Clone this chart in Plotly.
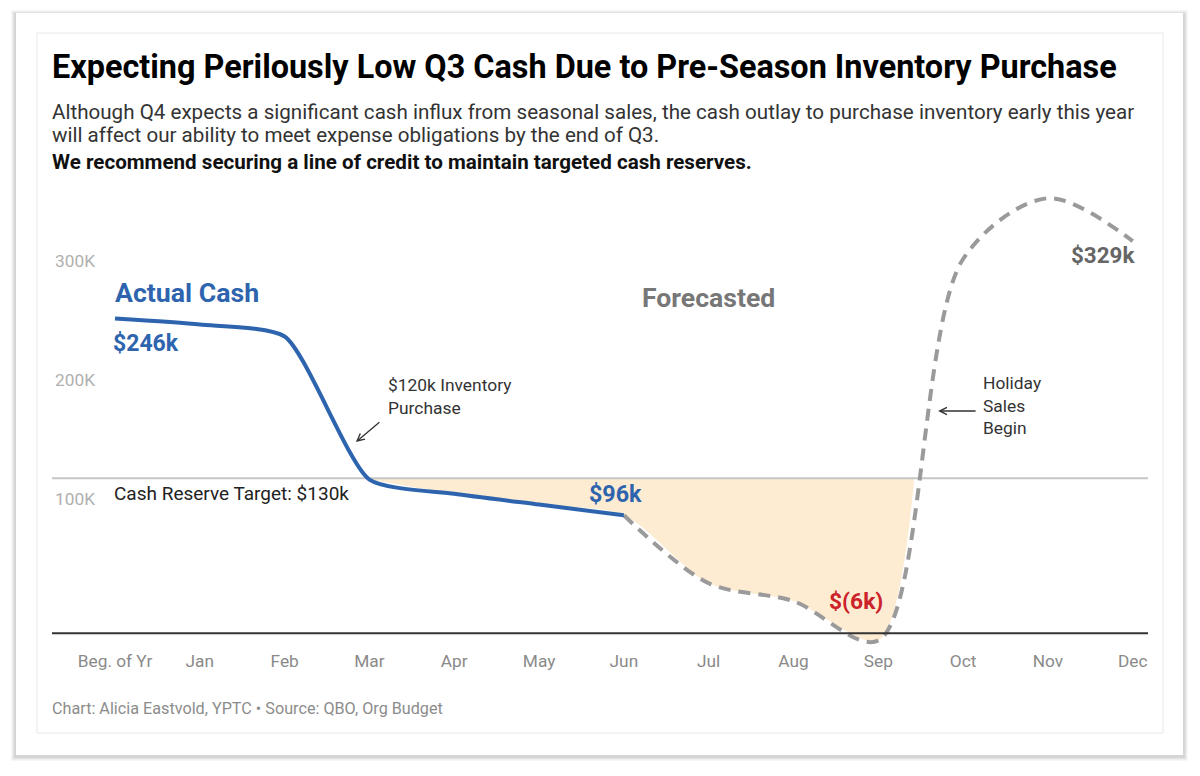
import plotly.graph_objects as go

# ---------------- data ----------------
months = ["Beg. of Yr", "Jan", "Feb", "Mar", "Apr", "May", "Jun",
          "Jul", "Aug", "Sep", "Oct", "Nov", "Dec"]
cash_k = [264, 259, 249, 129, 117, 108, 99, 42, 27, -6, 314, 365, 329]
actual_idx = list(range(0, 7))      # Beg. of Yr .. Jun
forecast_idx = list(range(6, 13))   # Jun .. Dec
target = 130000
y_tickvals = [100000, 200000, 300000]
y_ticktext = ["100K", "200K", "300K"]

cash = [v * 1000 for v in cash_k]
xi = list(range(len(months)))

# where the forecast climbs back through the target (between Sep and Oct)
i0 = months.index("Sep")
t = (target - cash[i0]) / (cash[i0 + 1] - cash[i0])
x_cross = i0 + t
shortfall_x = list(range(months.index("Mar"), i0 + 1)) + [x_cross]
shortfall_y = cash[months.index("Mar"):i0 + 1] + [target]

# ---------------- styling ----------------
FONT = "Roboto"
BLUE = "#2e64ae"
GRAY = "#9a9a9a"
RED = "#cc2229"
FILL = "#fdebd2"
W, H = 1200, 776
X_RANGE = [-0.743, 12.18]
Y_RANGE = [-9815, 380285]

fig = go.Figure()

# shortfall fill (below target)
fig.add_trace(go.Scatter(x=[shortfall_x[0], x_cross], y=[target, target],
                         mode="lines", line=dict(width=0), hoverinfo="skip",
                         showlegend=False))
fig.add_trace(go.Scatter(x=shortfall_x, y=shortfall_y, mode="lines",
                         line=dict(width=0, shape="spline", smoothing=0.8), fill="tonexty",
                         fillcolor=FILL, hoverinfo="skip", showlegend=False))
# target line
fig.add_trace(go.Scatter(x=X_RANGE, y=[target, target], mode="lines",
                         line=dict(color="#c6c6c6", width=2), hoverinfo="skip",
                         showlegend=False))
# forecast
fig.add_trace(go.Scatter(x=forecast_idx, y=[cash[i] for i in forecast_idx],
                         mode="lines",
                         line=dict(color=GRAY, width=4, dash="12px,8px",
                                   shape="spline", smoothing=0.9),
                         showlegend=False))
# actual
fig.add_trace(go.Scatter(x=actual_idx, y=[cash[i] for i in actual_idx],
                         mode="lines",
                         line=dict(color=BLUE, width=4, shape="spline", smoothing=0.6),
                         showlegend=False))

shapes = []
# card shadow + card + inner frame (paper coords == figure fractions, margins 0)
def px(x):
    return x / W

def py(y):
    return 1 - y / H

for k, a in enumerate([0.03, 0.035, 0.045, 0.06]):
    g = 5 - k
    shapes.append(dict(type="rect", xref="paper", yref="paper",
                       x0=px(16 - g), x1=px(1183 + g), y0=py(755 + g + 1), y1=py(13 - g + 2),
                       line=dict(width=0), fillcolor=f"rgba(0,0,0,{a})", layer="below"))
shapes.append(dict(type="rect", xref="paper", yref="paper",
                   x0=px(16), x1=px(1183), y0=py(755), y1=py(13),
                   line=dict(width=0), fillcolor="white", layer="below"))
shapes.append(dict(type="rect", xref="paper", yref="paper",
                   x0=px(37), x1=px(1163), y0=py(733), y1=py(33),
                   line=dict(width=1, color="#e8e8e8"), fillcolor="white", layer="below"))
# zero baseline
shapes.append(dict(type="line", xref="x domain", yref="y", x0=0, x1=1, y0=0, y1=0,
                   line=dict(color="#333333", width=2), layer="above"))

ann = []
def text(x, y, s, size, color="#222", weight=400, xanchor="left", yanchor="middle",
         xref="paper", yref="paper", xshift=0, yshift=0, align="left"):
    ann.append(dict(x=x, y=y, text=s, xref=xref, yref=yref, showarrow=False,
                    xanchor=xanchor, yanchor=yanchor, xshift=xshift, yshift=yshift,
                    align=align,
                    font=dict(family=FONT, size=size, color=color, weight=weight)))

text(px(50), py(67), "Expecting Perilously Low Q3 Cash Due to Pre-Season Inventory Purchase",
     32.4, "#000", 700)
text(px(50), py(112), "Although Q4 expects a significant cash influx from seasonal sales, "
     "the cash outlay to purchase inventory early this year", 20.6, "#333")
text(px(50), py(135), "will affect our ability to meet expense obligations by the end of Q3.",
     20.6, "#333")
text(px(50), py(162), "We recommend securing a line of credit to maintain targeted cash reserves.",
     20.6, "#111", 700)
text(px(50), py(708), "Chart: Alicia Eastvold, YPTC \u2022 Source: QBO, Org Budget", 16.2, "#8c8c8c")

# data-anchored labels
text(0, cash[0], "Actual Cash", 26.7, BLUE, 700, xref="x", yref="y", xshift=-2, yshift=26)
text(0, cash[0], "$246k", 23, BLUE, 700, xref="x", yref="y", xshift=-4, yshift=-25)
text(6, cash[6], "$96k", 23.3, BLUE, 700, xanchor="center", xref="x", yref="y",
     xshift=-8, yshift=21)
text(9, cash[9], "$(6k)", 22.8, RED, 700, xanchor="right", xref="x", yref="y",
     xshift=7, yshift=39)
text(12, cash[12], "$329k", 22.4, "#666", 700, xanchor="right", xref="x", yref="y",
     xshift=4, yshift=-14)
text(7, 282000, "Forecasted", 26.6, "#777", 700, xanchor="center", xref="x", yref="y")
text(0, target, "Cash Reserve Target: $130k", 19, "#222", xref="x", yref="y",
     xshift=-3, yshift=-15)
text(3, target, "$120k Inventory<br>Purchase", 17.4, "#333", yanchor="top",
     xref="x", yref="y", xshift=17, yshift=105)
text(10, target, "Holiday<br>Sales<br>Begin", 17.4, "#333", yanchor="top",
     xref="x", yref="y", xshift=18, yshift=107)

# arrows
ann.append(dict(x=2.84, y=160500, xref="x", yref="y", text="", showarrow=True,
                ax=25, ay=-21, arrowhead=5, arrowsize=1.1, arrowwidth=1.3,
                arrowcolor="#333"))
ann.append(dict(x=9.705, y=186500, xref="x", yref="y", text="", showarrow=True,
                ax=39, ay=0, arrowhead=5, arrowsize=1.1, arrowwidth=1.3,
                arrowcolor="#333"))

fig.update_layout(
    width=W, height=H, margin=dict(l=0, r=0, t=0, b=0),
    paper_bgcolor="white", plot_bgcolor="rgba(0,0,0,0)",
    showlegend=False, shapes=shapes, annotations=ann,
    font=dict(family=FONT),
    xaxis=dict(domain=[px(52), px(1148)], range=X_RANGE, tickvals=xi, ticktext=months,
               showgrid=False, zeroline=False, showline=False, ticks="",
               ticklabelstandoff=4,
               tickfont=dict(family=FONT, size=17.3, color="#8a8a8a"), automargin=False),
    yaxis=dict(domain=[py(645), py(180)], range=Y_RANGE, tickvals=y_tickvals,
               ticktext=y_ticktext, ticklabelposition="inside top",
               ticklabelshift=-3,
               showgrid=False, zeroline=False, showline=False, ticks="",
               tickfont=dict(family=FONT, size=17.3, color="#b0b0b0"), automargin=False),
)

fig.write_html("out.html", config={"displayModeBar": False},
               post_script="document.body.style.margin='0';")
